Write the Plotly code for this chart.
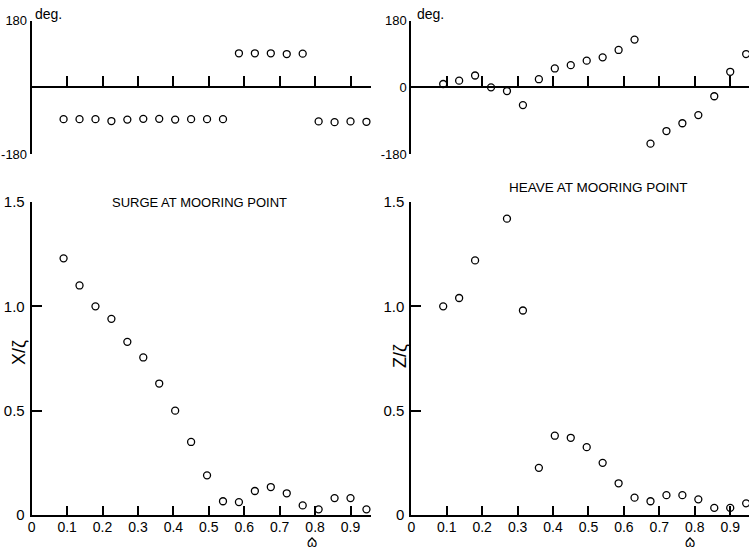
import plotly.graph_objects as go

# ---------------- data ----------------
omega = [0.090, 0.135, 0.180, 0.225, 0.270, 0.315, 0.360, 0.405, 0.450, 0.495,
         0.540, 0.585, 0.630, 0.675, 0.720, 0.765, 0.810, 0.855, 0.900, 0.945]

surge_phase = [-86, -86, -86, -91, -87, -85, -85, -87, -86, -86,
               -86, 92, 92, 92, 90, 91, -92, -94, -92, -93]
heave_phase = [9, 18, 32, 0, -10, -48, 22, 51, 60, 72,
               81, 101, 129, -152, -118, -97, -75, -24, 42, 90]

surge_amp = [1.23, 1.10, 1.00, 0.94, 0.83, 0.755, 0.63, 0.50, 0.35, 0.19,
             0.066, 0.062, 0.115, 0.134, 0.104, 0.046, 0.027, 0.081, 0.081, 0.027]
heave_amp = [1.00, 1.04, 1.22, None, 1.42, 0.98, 0.226, 0.38, 0.37, 0.325,
             0.25, 0.152, 0.083, 0.066, 0.095, 0.095, 0.075, 0.034, 0.034, 0.056]

x_tickvals = [0, 0.1, 0.2, 0.3, 0.4, 0.5, 0.6, 0.7, 0.8, 0.9]
x_ticktext = ["0", "0.1", "0.2", "0.3", "0.4", "0.5", "0.6", "0.7", "0.8", "0.9"]
amp_tickvals = [0, 0.5, 1.0, 1.5]
amp_ticktext = ["0", "0.5", "1.0", "1.5"]

W, H = 749, 552
FONT = "Liberation Sans, Arial, sans-serif"

def px_x(p):
    return p / W

def px_y(p):
    return 1 - p / H

marker = dict(symbol="circle-open", size=7, color="black",
              line=dict(color="black", width=1.3))

fig = go.Figure()
pairs = [("x", "y", surge_phase), ("x2", "y2", heave_phase),
         ("x3", "y3", surge_amp), ("x4", "y4", heave_amp)]
for xa, ya, vals in pairs:
    fig.add_trace(go.Scatter(x=omega, y=vals, mode="markers", marker=marker,
                             xaxis=xa, yaxis=ya, cliponaxis=False,
                             showlegend=False, hoverinfo="x+y"))

left_dom = [px_x(31.7), px_x(370.7)]
right_dom = [px_x(411.3), 1.0]
top_dom = [px_y(154), px_y(20.7)]
bot_dom = [px_y(515), px_y(202)]
top_mid = (top_dom[0] + top_dom[1]) / 2

axis_common = dict(showline=True, linecolor="black", linewidth=2,
                   showgrid=False, zeroline=False, ticks="inside",
                   tickcolor="black", tickwidth=1.5, automargin=False,
                   tickfont=dict(family=FONT, size=14, color="black"))

# top phase panels
for i, (dom, rng) in enumerate([(left_dom, [0, 0.957]), (right_dom, [0, 0.953])]):
    n = "" if i == 0 else "2"
    fig.layout["xaxis" + n] = dict(axis_common, domain=dom, range=rng,
                                   anchor="free", position=top_mid,
                                   tickvals=x_tickvals[1:], ticklen=10,
                                   showticklabels=False)
    if i == 0:
        tv, tt = [-180, 180], ["-180", "180"]
    else:
        tv, tt = [-180, 0, 180], ["-180", "0", "180"]
    fig.layout["yaxis" + n] = dict(axis_common, domain=top_dom, range=[-180, 180],
                                   anchor="x" + n, tickvals=tv, ticktext=tt,
                                   ticklen=8, ticklabelstandoff=0,
                                   tickfont=dict(family=FONT, size=13, color="black"))

# bottom amplitude panels
for i, (dom, rng) in enumerate([(left_dom, [0, 0.957]), (right_dom, [0, 0.953])]):
    n = "3" if i == 0 else "4"
    fig.layout["xaxis" + n] = dict(axis_common, domain=dom, range=rng,
                                   anchor="y" + n, tickvals=x_tickvals,
                                   ticktext=x_ticktext, ticklen=9,
                                   ticklabelstandoff=-2)
    fig.layout["yaxis" + n] = dict(axis_common, domain=bot_dom, range=[0, 1.5],
                                   anchor="x" + n, tickvals=amp_tickvals,
                                   ticktext=amp_ticktext, ticklen=10,
                                   ticklabelstandoff=2,
                                   tickfont=dict(family=FONT, size=15, color="black"))

ann = []
def add_text(text, x, y, size, **kw):
    d = dict(text=text, x=px_x(x), y=px_y(y), xref="paper", yref="paper",
             xanchor="center", yanchor="middle",
             showarrow=False, font=dict(family=FONT, size=size, color="black"))
    d.update(kw)
    ann.append(d)

add_text("deg.", 49, 14, 14)
add_text("deg.", 430, 14, 14)
add_text("SURGE AT MOORING POINT", 199, 202, 13)
add_text("HEAVE AT MOORING POINT", 598, 187, 13.5)
add_text("X/ζ", 19, 353, 18, textangle=-90)
add_text("Z/ζ", 400, 356, 18, textangle=-90)
add_text("ω", 312, 552, 13, yanchor="bottom")
add_text("ω", 690, 552, 13, yanchor="bottom")

# circumflex accents over the omegas (drawn as small carets)
shapes = []
for cx in (312, 690):
    x0, x1, x2 = px_x(cx - 3.5), px_x(cx), px_x(cx + 3.5)
    yb, yt = px_y(541.5), px_y(538)
    shapes.append(dict(type="path", xref="paper", yref="paper",
                       path=f"M {x0} {yb} L {x1} {yt} L {x2} {yb}",
                       line=dict(color="black", width=1.3)))

fig.update_layout(width=W, height=H, margin=dict(l=0, r=0, t=0, b=0, pad=0),
                  paper_bgcolor="white", plot_bgcolor="white",
                  annotations=ann, shapes=shapes, showlegend=False)

fig.write_html("out.html")
